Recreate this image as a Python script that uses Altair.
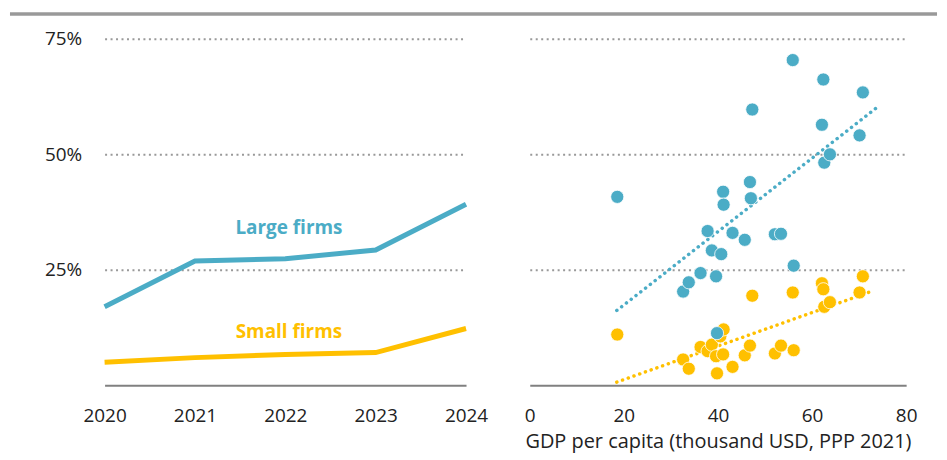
import altair as alt
import pandas as pd

# ---- data ----
years = [2020, 2021, 2022, 2023, 2024]
large_firms = [17.0, 26.9, 27.4, 29.3, 39.2]
small_firms = [5.0, 6.0, 6.7, 7.1, 12.3]

gdp_large = [18.6, 32.6, 33.8, 36.3, 37.8, 38.7, 39.6, 39.8, 40.7, 41.1, 41.2, 43.1, 45.7,
             46.8, 47.0, 47.3, 52.1, 53.4, 55.9, 56.1, 62.1, 62.4, 62.6, 63.8, 70.1, 70.8]
share_large = [40.8, 20.3, 22.3, 24.3, 33.4, 29.2, 23.6, 11.3, 28.4, 41.9, 39.1, 33.0, 31.5,
               44.0, 40.5, 59.7, 32.7, 32.8, 70.4, 25.9, 56.4, 66.2, 48.2, 50.0, 54.1, 63.4]

gdp_small = [18.6, 32.6, 33.8, 36.3, 37.8, 38.7, 39.6, 39.8, 40.5, 41.1, 41.2, 43.1, 45.7,
             46.8, 47.3, 52.1, 53.4, 55.9, 56.1, 62.1, 62.4, 62.6, 63.8, 70.1, 70.8]
share_small = [11.0, 5.6, 3.6, 8.3, 7.4, 8.8, 6.3, 2.6, 10.6, 6.7, 12.1, 4.0, 6.5,
               8.6, 19.4, 6.9, 8.6, 20.1, 7.6, 22.1, 20.8, 17.0, 18.0, 20.1, 23.6]

trend_x_large = [18.5, 73.5]
trend_y_large = [16.2, 59.9]
trend_x_small = [18.5, 73.1]
trend_y_small = [0.7, 20.5]

series = ["Large firms", "Small firms"]
label_x = [2022.04, 2022.04]
label_y = [34.0, 11.6]

TEAL = "#4BACC6"
GOLD = "#FFC000"
FONT = "Open Sans"

lines_df = pd.DataFrame(
    {"year": years * 2,
     "share": large_firms + small_firms,
     "series": [series[0]] * len(years) + [series[1]] * len(years)})
labels_df = pd.DataFrame({"x": label_x, "y": label_y, "series": series})
large_df = pd.DataFrame({"gdp": gdp_large, "share": share_large})
small_df = pd.DataFrame({"gdp": gdp_small, "share": share_small})
trend_df = pd.DataFrame(
    {"gdp": trend_x_large + trend_x_small,
     "share": trend_y_large + trend_y_small,
     "series": [series[0]] * 2 + [series[1]] * 2})

color_scale = alt.Scale(domain=series, range=[TEAL, GOLD])
y_scale = alt.Scale(domain=[0, 75], nice=False, zero=True)

grid_common = dict(values=[25, 50, 75], grid=True, gridDash=[2, 3.5], gridColor="#999999",
                   gridWidth=2, domain=False, ticks=False, title=None, labelFlush=False)

W_LEFT, W_RIGHT, H = 363, 378, 348

# ---- left panel ----
y_left = alt.Y("share:Q", scale=y_scale,
               axis=alt.Axis(labelExpr="datum.value + '%'", labelPadding=23,
                             minExtent=60, maxExtent=60, **grid_common))
x_left = alt.X("year:Q", scale=alt.Scale(domain=[2020, 2024], nice=False, zero=False),
               axis=alt.Axis(values=years, format="d", title=None, grid=False, ticks=False,
                             labelFlush=False, domainColor="#808080", domainWidth=2,
                             labelPadding=21))

lines = alt.Chart(lines_df).mark_line(strokeWidth=5).encode(
    x=x_left, y=y_left,
    color=alt.Color("series:N", scale=color_scale, legend=None))

labels = alt.Chart(labels_df).mark_text(font=FONT, fontSize=19, fontWeight="bold").encode(
    x=alt.X("x:Q"), y=alt.Y("y:Q"), text="series:N",
    color=alt.Color("series:N", scale=color_scale, legend=None))

top_rule = alt.Chart(labels_df).mark_rule(color="#999999", strokeWidth=3).encode(
    x=alt.value(-95), x2=alt.value(836), y=alt.value(-25))

left = alt.layer(lines, labels, top_rule).properties(width=W_LEFT, height=H)

# ---- right panel ----
y_right = alt.Y("share:Q", scale=y_scale,
                axis=alt.Axis(labels=False, minExtent=0, maxExtent=0, **grid_common))
x_right = alt.X("gdp:Q", scale=alt.Scale(domain=[0, 80], nice=False),
                axis=alt.Axis(values=[0, 20, 40, 60, 80], title="GDP per capita (thousand USD, PPP 2021)",
                              grid=False, ticks=False, labelFlush=False,
                              domainColor="#808080", domainWidth=2,
                              labelPadding=21, titlePadding=6, titleFont=FONT, titleFontSize=20,
                              titleFontWeight="normal", titleColor="#222222"))

trends = alt.Chart(trend_df).mark_line(strokeWidth=3.5, strokeDash=[0.1, 6], strokeCap="round").encode(
    x=x_right, y=y_right, detail="series:N",
    color=alt.Color("series:N", scale=color_scale, legend=None))

pts_small = alt.Chart(small_df).mark_circle(size=175, opacity=1, color=GOLD,
                                            stroke="white", strokeWidth=0.8).encode(
    x=x_right, y=y_right)
pts_large = alt.Chart(large_df).mark_circle(size=175, opacity=1, color=TEAL,
                                            stroke="white", strokeWidth=0.8).encode(
    x=x_right, y=y_right)

right = alt.layer(trends, pts_small, pts_large).properties(width=W_RIGHT, height=H)

chart = alt.hconcat(left, right, spacing=64, bounds="flush").properties(
    padding={"left": 0, "top": 3, "right": 0, "bottom": 5}
).configure_view(stroke=None).configure_axis(
    labelFont=FONT, labelFontSize=19, labelColor="#222222"
)

chart.save("out.html", embed_options={"renderer": "svg", "actions": False})
